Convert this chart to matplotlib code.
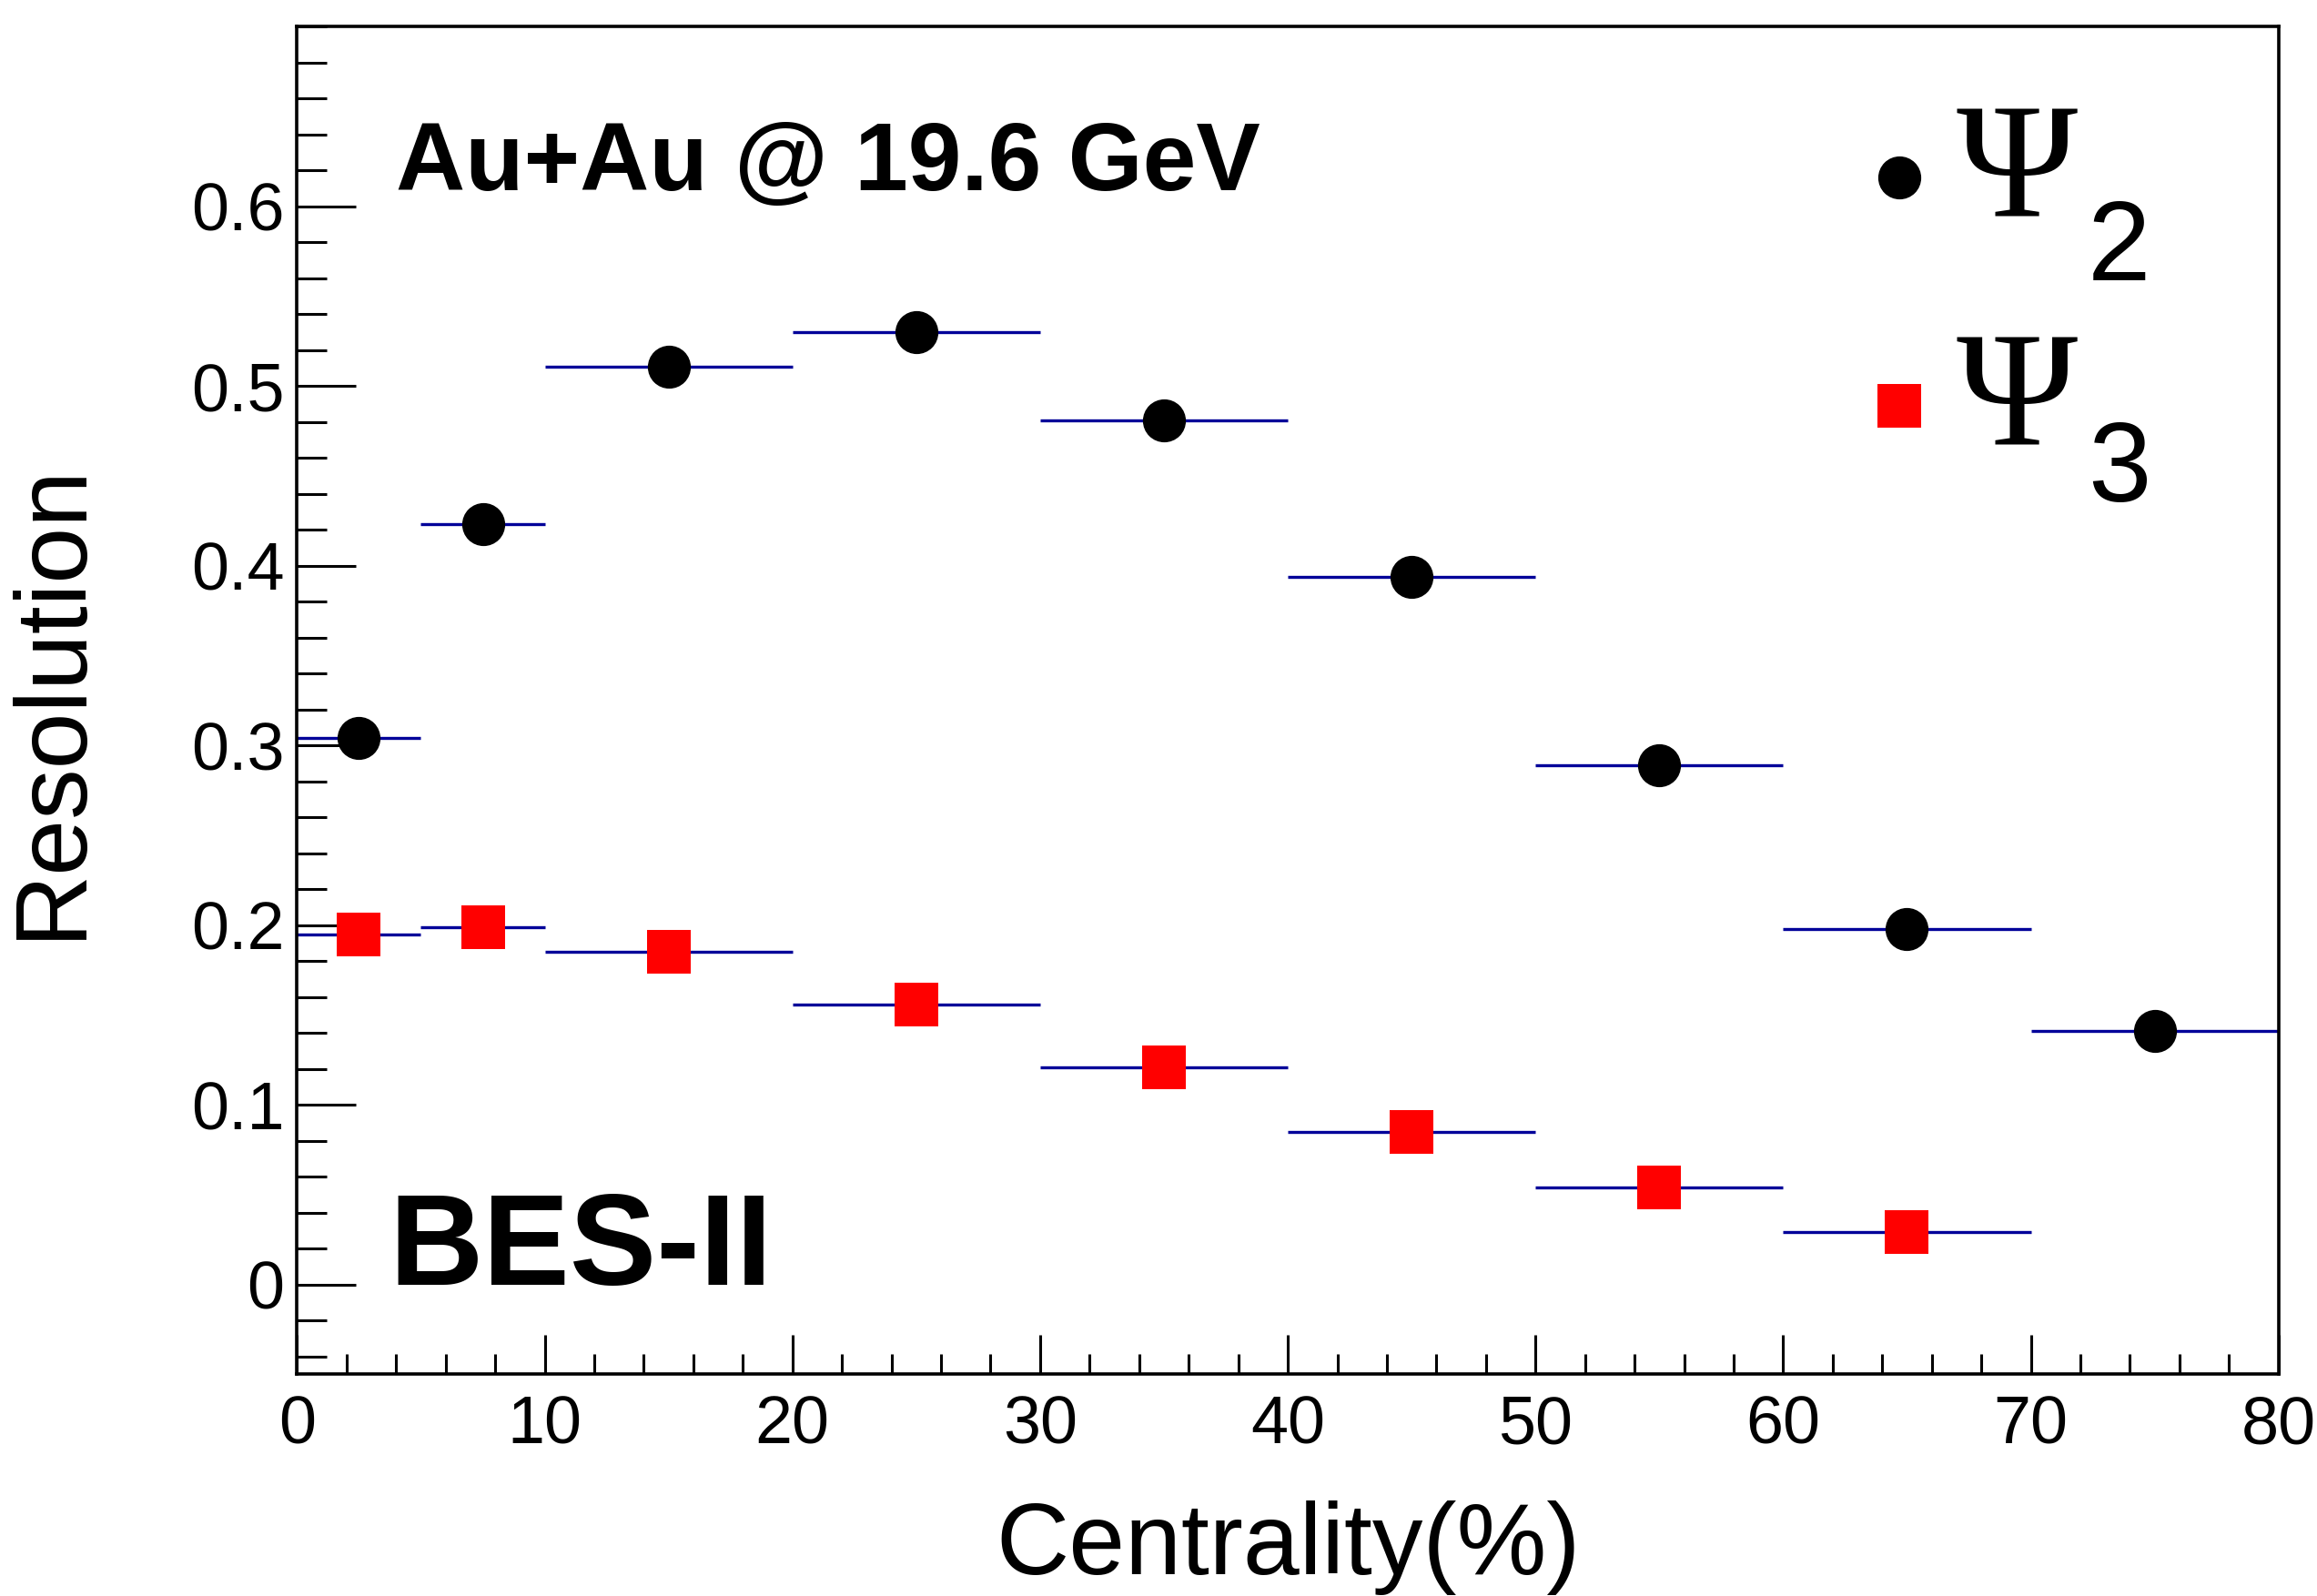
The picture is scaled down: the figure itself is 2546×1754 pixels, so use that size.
import numpy as np
import matplotlib.pyplot as plt
from matplotlib.ticker import MultipleLocator

# centrality bins (%)
bin_lo = np.array([0, 5, 10, 20, 30, 40, 50, 60, 70])
bin_hi = np.array([5, 10, 20, 30, 40, 50, 60, 70, 80])
centers = (bin_lo + bin_hi) / 2
half_w = (bin_hi - bin_lo) / 2

# event plane resolution
res_psi2 = np.array([0.304, 0.423, 0.511, 0.530, 0.481, 0.394, 0.289, 0.198, 0.141])
res_psi3 = np.array([0.195, 0.199, 0.185, 0.156, 0.121, 0.085, 0.054, 0.029])

plt.rcParams['font.family'] = ['Liberation Sans', 'DejaVu Sans']

fig = plt.figure(figsize=(25.46, 17.54), dpi=100)
ax = fig.add_axes([0.1282, 0.1389, 0.8552, 0.8444])

err_col = '#000099'
ax.errorbar(centers, res_psi2, xerr=half_w, fmt='none', ecolor=err_col,
            elinewidth=2.4, capsize=0, zorder=2)
n3 = len(res_psi3)
ax.errorbar(centers[:n3], res_psi3, xerr=half_w[:n3], fmt='none', ecolor=err_col,
            elinewidth=2.4, capsize=0, zorder=2)
ax.plot(centers, res_psi2, 'o', color='black', ms=33, zorder=3, clip_on=False)
ax.plot(centers[:n3], res_psi3, 's', color='red', ms=34, mew=0, zorder=3)

ax.set_xlim(0, 80)
ax.set_ylim(-0.05, 0.7)
ax.xaxis.set_major_locator(MultipleLocator(10))
ax.xaxis.set_minor_locator(MultipleLocator(2))
ax.yaxis.set_minor_locator(MultipleLocator(0.02))
ax.set_yticks([0, 0.1, 0.2, 0.3, 0.4, 0.5, 0.6])
ax.set_yticklabels(['0', '0.1', '0.2', '0.3', '0.4', '0.5', '0.6'])

ax.tick_params(which='both', direction='in', top=False, right=False, width=2.2)
ax.tick_params(which='major', labelsize=53)
ax.tick_params(axis='y', which='major', length=47, pad=10)
ax.tick_params(axis='y', which='minor', length=24)
ax.tick_params(axis='x', which='major', length=31, pad=16)
ax.tick_params(axis='x', which='minor', length=16)
for sp in ax.spines.values():
    sp.set_linewidth(2.6)

ax.set_xlabel('Centrality(%)', fontsize=80, labelpad=34)
ax.set_ylabel('Resolution', fontsize=80, labelpad=72)

ax.text(4.0, 0.609, 'Au+Au @ 19.6 GeV', fontsize=76, fontweight='bold',
        ha='left', va='baseline')
ax.text(3.7, 0.0, 'BES-II', fontsize=103, fontweight='bold',
        ha='left', va='baseline')

# legend drawn by hand
leg_x = 64.7
ax.plot([leg_x], [0.616], 'o', color='black', ms=33)
ax.plot([leg_x], [0.489], 's', color='red', ms=34, mew=0)
for y, sub, dy in [(0.616, '2', -0.041), (0.489, '3', -0.037)]:
    ax.text(leg_x + 2.3, y, 'Ψ', fontsize=130, family=['Liberation Serif', 'DejaVu Serif'],
            ha='left', va='center')
    ax.text(leg_x + 7.6, y + dy, sub, fontsize=90, ha='left', va='center')

fig.savefig('out.png', dpi=100)
